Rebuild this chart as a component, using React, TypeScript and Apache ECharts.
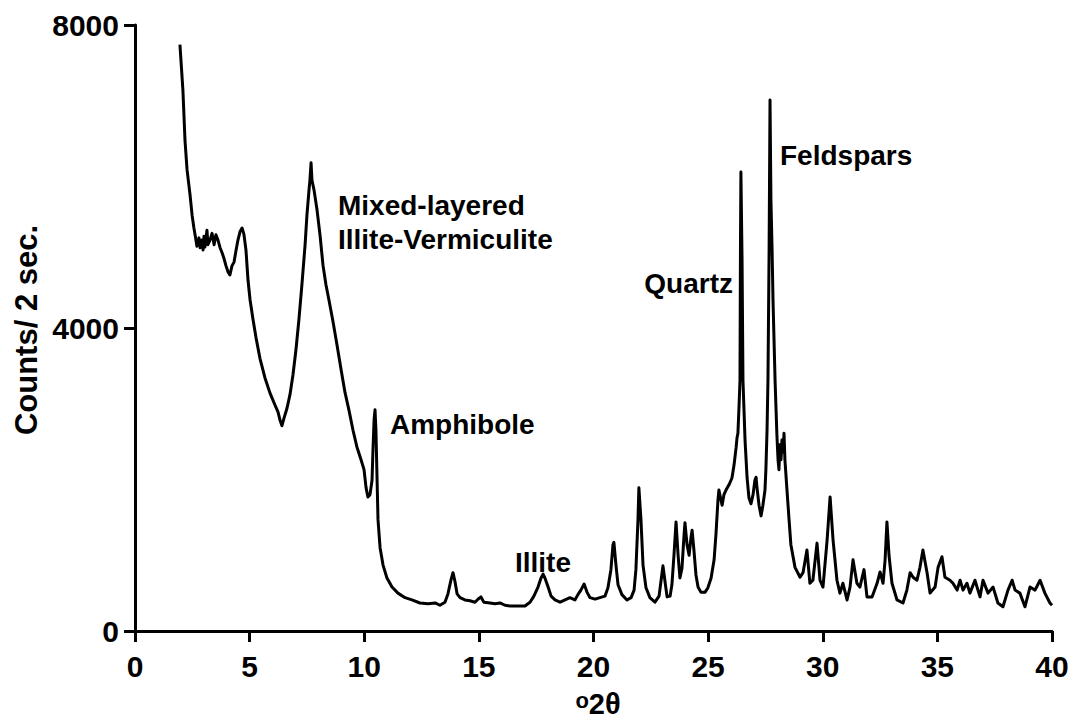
import React, { useEffect, useRef } from "react";
import * as echarts from "echarts";

// Diffraction angle (°2θ) and intensity (counts / 2 s)
const twoTheta = [
  1.96, 2.09, 2.18, 2.27, 2.40, 2.49, 2.57, 2.66, 2.70, 2.79, 2.84, 2.92, 2.97, 3.01, 3.05, 3.14, 3.18, 3.27, 3.36, 3.45,
  3.53, 3.62, 3.71, 3.79, 3.88, 3.97, 4.06, 4.14, 4.23, 4.32, 4.41, 4.49, 4.58, 4.67, 4.75, 4.84, 4.93, 5.02, 5.15, 5.28,
  5.45, 5.67, 5.89, 6.11, 6.24, 6.32, 6.41, 6.50, 6.63, 6.76, 6.89, 7.02, 7.15, 7.28, 7.42, 7.50, 7.59, 7.63, 7.68, 7.72,
  7.81, 7.94, 8.07, 8.20, 8.33, 8.46, 8.64, 8.81, 8.99, 9.16, 9.33, 9.51, 9.68, 9.86, 9.99, 10.08, 10.16, 10.25, 10.34, 10.38,
  10.43, 10.47, 10.51, 10.56, 10.60, 10.69, 10.82, 10.99, 11.21, 11.47, 11.78, 12.08, 12.43, 12.78, 13.09, 13.30, 13.52, 13.65, 13.78, 13.87,
  13.96, 14.05, 14.18, 14.39, 14.61, 14.83, 14.96, 15.09, 15.22, 15.49, 15.70, 15.92, 16.14, 16.36, 16.58, 16.79, 17.01, 17.23, 17.40, 17.58,
  17.71, 17.80, 17.88, 18.02, 18.15, 18.32, 18.54, 18.76, 18.97, 19.19, 19.32, 19.45, 19.59, 19.72, 19.85, 20.07, 20.28, 20.50, 20.63, 20.76,
  20.85, 20.89, 20.98, 21.07, 21.24, 21.46, 21.64, 21.77, 21.85, 21.94, 21.98, 22.07, 22.16, 22.29, 22.46, 22.68, 22.86, 22.94, 23.03, 23.12,
  23.21, 23.34, 23.42, 23.51, 23.60, 23.69, 23.77, 23.86, 23.95, 23.99, 24.08, 24.17, 24.25, 24.30, 24.38, 24.47, 24.56, 24.69, 24.86, 24.99,
  25.13, 25.26, 25.34, 25.43, 25.47, 25.56, 25.61, 25.69, 25.78, 25.91, 26.04, 26.13, 26.22, 26.26, 26.30, 26.35, 26.39, 26.41, 26.43, 26.48,
  26.52, 26.61, 26.70, 26.78, 26.87, 26.96, 27.04, 27.09, 27.13, 27.22, 27.31, 27.39, 27.48, 27.52, 27.57, 27.61, 27.66, 27.70, 27.74, 27.79,
  27.83, 27.92, 28.00, 28.05, 28.09, 28.13, 28.18, 28.22, 28.27, 28.31, 28.35, 28.44, 28.53, 28.61, 28.79, 29.01, 29.14, 29.31, 29.44, 29.57,
  29.75, 29.88, 30.01, 30.19, 30.32, 30.45, 30.62, 30.75, 30.88, 31.06, 31.19, 31.32, 31.49, 31.62, 31.80, 31.93, 32.15, 32.37, 32.50, 32.63,
  32.72, 32.80, 32.89, 33.02, 33.24, 33.50, 33.67, 33.81, 33.94, 34.11, 34.24, 34.37, 34.55, 34.68, 34.90, 35.03, 35.20, 35.33, 35.55, 35.68,
  35.86, 35.99, 36.12, 36.29, 36.42, 36.64, 36.86, 36.99, 37.21, 37.43, 37.64, 37.86, 38.08, 38.26, 38.39, 38.60, 38.82, 39.04, 39.26, 39.48,
  39.69, 39.91, 40.0,
];

const counts = [
  7740, 7140, 6480, 6090, 5760, 5490, 5320, 5160, 5080, 5190, 5060, 5160, 5030, 5210, 5070, 5290, 5100, 5160, 5250, 5100,
  5230, 5160, 5060, 5000, 4920, 4820, 4740, 4700, 4820, 4870, 5030, 5160, 5270, 5320, 5240, 5030, 4630, 4370, 4110, 3870,
  3600, 3340, 3140, 2980, 2890, 2790, 2710, 2810, 2940, 3120, 3380, 3710, 4110, 4570, 5100, 5490, 5820, 5950, 6180, 5950,
  5820, 5560, 5230, 4830, 4570, 4370, 4080, 3780, 3450, 3150, 2920, 2650, 2430, 2260, 2130, 1890, 1770, 1800, 1990, 2390,
  2790, 2920, 2650, 1990, 1470, 1100, 870, 700, 580, 500, 440, 410, 370, 360, 370, 340, 380, 490, 670, 770,
  650, 490, 440, 410, 400, 380, 420, 450, 380, 370, 360, 370, 340, 330, 330, 330, 330, 380, 460, 580,
  700, 750, 700, 580, 460, 410, 380, 410, 440, 410, 480, 540, 620, 510, 440, 420, 440, 460, 570, 810,
  1140, 1170, 870, 610, 480, 410, 440, 540, 810, 1470, 1890, 1470, 870, 570, 440, 380, 460, 650, 860, 650,
  450, 460, 610, 1000, 1440, 1000, 700, 830, 1270, 1430, 1140, 1000, 1230, 1330, 1070, 740, 580, 510, 510, 570,
  700, 940, 1270, 1730, 1860, 1730, 1660, 1800, 1860, 1930, 2020, 2190, 2420, 2550, 2610, 2980, 3310, 5030, 6060, 4900,
  3310, 2520, 2020, 1760, 1680, 1800, 1990, 2030, 1900, 1660, 1520, 1660, 1860, 2130, 2650, 3310, 5030, 7010, 5690, 5030,
  4370, 3310, 2590, 2260, 2130, 2460, 2260, 2520, 2360, 2610, 2260, 1860, 1470, 1140, 840, 710, 770, 1070, 630, 670,
  1160, 670, 580, 1200, 1770, 1200, 670, 500, 630, 410, 580, 940, 630, 580, 810, 450, 450, 630, 780, 630,
  940, 1440, 1000, 630, 410, 370, 540, 770, 710, 670, 840, 1070, 770, 500, 580, 840, 980, 710, 670, 630,
  540, 670, 540, 630, 500, 670, 450, 670, 500, 580, 370, 320, 540, 670, 540, 500, 320, 580, 540, 670,
  500, 370, 340,
];

// Axis ranges and ticks
const xMin = 0;
const xMax = 40;
const xStep = 5;
const yMin = 0;
const yMax = 8000;
const yStep = 4000;

// Peak annotations
const peakLabels = ["Mixed-layered", "Illite-Vermiculite", "Amphibole", "Illite", "Quartz", "Feldspars"];
const yAxisTitle = "Counts/ 2 sec.";

const FONT = '"Liberation Sans", Arial, Helvetica, sans-serif';

export default function App() {
  const ref = useRef<HTMLDivElement>(null);

  useEffect(() => {
    if (!ref.current) return;
    const chart = echarts.init(ref.current, null, { renderer: "svg" });
    const data = twoTheta.map((x, i) => [x, counts[i]]);

    const label = (text: string, x: number, y: number, align: string = "left") => ({
      type: "text",
      x,
      y,
      silent: true,
      style: {
        text,
        fill: "#000",
        font: `bold 28px ${FONT}`,
        align,
        verticalAlign: "middle",
      },
    });

    chart.setOption({
      animation: false,
      backgroundColor: "#fff",
      grid: { left: 135, top: 25, right: 21, bottom: 97, containLabel: false },
      xAxis: {
        type: "value",
        min: xMin,
        max: xMax,
        interval: xStep,
        axisLine: { show: true, onZero: false, lineStyle: { color: "#000", width: 3 } },
        axisTick: { show: true, inside: false, length: 11, lineStyle: { color: "#000", width: 3 } },
        axisLabel: { color: "#000", fontFamily: FONT, fontWeight: "bold", fontSize: 30, margin: 20 },
        splitLine: { show: false },
      },
      yAxis: {
        type: "value",
        min: yMin,
        max: yMax,
        interval: yStep,
        axisLine: { show: true, onZero: false, lineStyle: { color: "#000", width: 3 } },
        axisTick: { show: true, inside: false, length: 11, lineStyle: { color: "#000", width: 3 } },
        axisLabel: {
          color: "#000",
          fontFamily: FONT,
          fontWeight: "bold",
          fontSize: 30,
          margin: 16,
          formatter: (v: number) => String(v),
        },
        splitLine: { show: false },
      },
      series: [
        {
          type: "line",
          data,
          symbol: "none",
          smooth: false,
          lineStyle: { color: "#000", width: 3, join: "round" },
          silent: true,
        },
      ],
      graphic: [
        label(peakLabels[0], 338, 205),
        label(peakLabels[1], 338, 239),
        label(peakLabels[2], 390, 424),
        label(peakLabels[3], 515, 562),
        label(peakLabels[4], 733, 283, "right"),
        label(peakLabels[5], 780, 155),
        {
          type: "text",
          x: 26,
          y: 330,
          rotation: Math.PI / 2,
          silent: true,
          style: {
            text: yAxisTitle,
            fill: "#000",
            font: `bold 31px ${FONT}`,
            align: "center",
            verticalAlign: "middle",
          },
        },
        {
          type: "text",
          x: 598,
          y: 704,
          silent: true,
          style: {
            text: "{a|o}{b|2θ}",
            fill: "#000",
            align: "center",
            verticalAlign: "middle",
            rich: {
              a: { fontFamily: FONT, fontWeight: "bold", fontSize: 22, fill: "#000", verticalAlign: "top" },
              b: { fontFamily: FONT, fontWeight: "bold", fontSize: 29, fill: "#000" },
            },
          },
        },
      ],
    });

    return () => chart.dispose();
  }, []);

  return (
    <div
      ref={ref}
      style={{ position: "fixed", left: 0, top: 0, width: 1073, height: 728, background: "#fff" }}
    />
  );
}
